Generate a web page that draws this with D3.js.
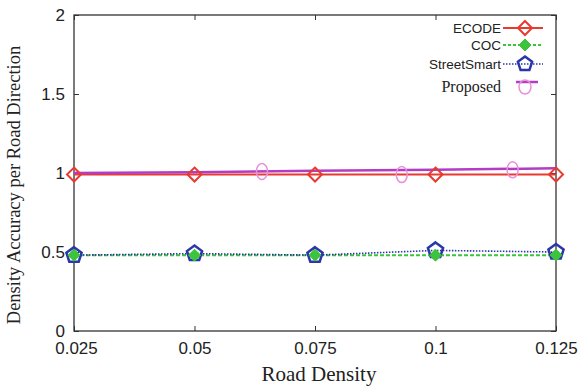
<!DOCTYPE html>
<html><head><meta charset="utf-8">
<script src="https://cdn.jsdelivr.net/npm/d3@7"></script>
<style>body{margin:0;background:#fff}svg{display:block}</style>
</head><body><svg id="c" width="585" height="386"></svg>
<script>
const xValues = [0.025, 0.05, 0.075, 0.1, 0.125];
const ecode = [0.99, 0.99, 0.99, 0.99, 0.99];
const coc = [0.48, 0.48, 0.48, 0.48, 0.48];
const streetSmart = [0.48, 0.49, 0.48, 0.51, 0.50];
const proposedLine = [1.0, 1.005, 1.015, 1.02, 1.03];
const proposedMarkX = [0.064, 0.093, 0.116];
const proposedMarkY = [1.01, 0.99, 1.02];
const xTicks = [0.025, 0.05, 0.075, 0.1, 0.125];
const yTicks = [0, 0.5, 1, 1.5, 2];

const svg = d3.select("#c");
const L = 74, R = 556, T = 15, B = 331;
const x = d3.scaleLinear().domain([0.025, 0.125]).range([L, R]);
const y = d3.scaleLinear().domain([0, 2]).range([B, T]);

svg.append("rect").attr("x", L).attr("y", T).attr("width", R - L).attr("height", B - T)
  .attr("fill", "none").attr("stroke", "#333").attr("stroke-width", 1.3);

const fmt = d => String(d);
const xb = svg.append("g").attr("transform", `translate(0,${B})`)
  .call(d3.axisBottom(x).tickValues(xTicks).tickFormat(fmt).tickSizeInner(-5).tickSizeOuter(0).tickPadding(10));
const xt = svg.append("g").attr("transform", `translate(0,${T})`)
  .call(d3.axisTop(x).tickValues(xTicks).tickFormat("").tickSizeInner(-5).tickSizeOuter(0));
const yl = svg.append("g").attr("transform", `translate(${L},0)`)
  .call(d3.axisLeft(y).tickValues(yTicks).tickFormat(fmt).tickSizeInner(-5).tickSizeOuter(0).tickPadding(9));
const yr = svg.append("g").attr("transform", `translate(${R},0)`)
  .call(d3.axisRight(y).tickValues(yTicks).tickFormat("").tickSizeInner(-5).tickSizeOuter(0));
[xb, xt, yl, yr].forEach(g => {
  g.select(".domain").remove();
  g.selectAll("line").attr("stroke", "#333").attr("stroke-width", 1);
  g.selectAll("text").attr("font-family", "Liberation Sans, Arial, sans-serif").attr("font-size", 17).attr("fill", "#222");
});
xb.selectAll("text").attr("y", 11).attr("dy", "0.71em");
xb.selectAll("text").filter(d => d === 0.025).attr("dx", 2);

svg.append("text").attr("x", 319).attr("y", 381).attr("text-anchor", "middle")
  .attr("font-family", "Liberation Serif, Times New Roman, serif").attr("font-size", 21).attr("fill", "#222")
  .text("Road Density");
svg.append("text").attr("transform", `translate(20,185) rotate(-90)`).attr("text-anchor", "middle")
  .attr("font-family", "Liberation Serif, Times New Roman, serif").attr("font-size", 18.5).attr("fill", "#222")
  .text("Density Accuracy per Road Direction");

const red = "#e83a30", green = "#3cc43c", blue = "#2b36a8", purple = "#b23cc4", pink = "#e890dc";
const line = d3.line().x(d => x(d[0])).y(d => y(d[1]));
const zip = vals => xValues.map((v, i) => [v, vals[i]]);

const diamond = (s) => `M0,${-s}L${s},0L0,${s}L${-s},0Z`;
const pentagon = (r) => {
  const pts = d3.range(5).map(i => { const a = -Math.PI / 2 + i * 2 * Math.PI / 5; return [r * Math.cos(a), r * Math.sin(a)]; });
  return "M" + pts.map(p => p.join(",")).join("L") + "Z";
};

svg.append("path").datum(zip(coc)).attr("d", line).attr("fill", "none").attr("stroke", green).attr("stroke-width", 2).attr("stroke-dasharray", "4,2");
svg.append("path").datum(zip(streetSmart)).attr("d", line).attr("fill", "none").attr("stroke", blue).attr("stroke-width", 1.6).attr("stroke-dasharray", "1.5,1.5");
svg.append("path").datum(zip(ecode)).attr("d", line).attr("fill", "none").attr("stroke", red).attr("stroke-width", 2);
svg.append("path").datum(zip(proposedLine)).attr("d", line).attr("fill", "none").attr("stroke", purple).attr("stroke-width", 2.5);

svg.append("g").selectAll("path").data(zip(streetSmart)).join("path")
  .attr("transform", d => `translate(${x(d[0])},${y(d[1])})`).attr("d", pentagon(8))
  .attr("fill", "none").attr("stroke", blue).attr("stroke-width", 2.5);
svg.append("g").selectAll("path").data(zip(coc)).join("path")
  .attr("transform", d => `translate(${x(d[0])},${y(d[1])})`).attr("d", diamond(6))
  .attr("fill", green).attr("stroke", green).attr("stroke-width", 1);
svg.append("g").selectAll("path").data(zip(ecode)).join("path")
  .attr("transform", d => `translate(${x(d[0])},${y(d[1])})`).attr("d", diamond(7))
  .attr("fill", "none").attr("stroke", red).attr("stroke-width", 2);
svg.append("g").selectAll("ellipse").data(proposedMarkX.map((v, i) => [v, proposedMarkY[i]])).join("ellipse")
  .attr("cx", d => x(d[0])).attr("cy", d => y(d[1])).attr("rx", 5.5).attr("ry", 8)
  .attr("fill", "none").attr("stroke", pink).attr("stroke-width", 1.5);

const leg = [
  {name: "ECODE", font: "Liberation Sans, Arial, sans-serif", size: 13.5, y: 28},
  {name: "COC", font: "Liberation Sans, Arial, sans-serif", size: 13.5, y: 45},
  {name: "StreetSmart", font: "Liberation Sans, Arial, sans-serif", size: 13.5, y: 64},
  {name: "Proposed", font: "Liberation Serif, Times New Roman, serif", size: 16, y: 86}
];
const lx0 = 503, lx1 = 543, mx = 525;
leg.forEach(l => {
  svg.append("text").attr("x", 501).attr("y", l.y).attr("dy", "0.35em").attr("text-anchor", "end")
    .attr("font-family", l.font).attr("font-size", l.size).attr("fill", "#222").text(l.name);
});
svg.append("line").attr("x1", lx0).attr("x2", lx1).attr("y1", 28).attr("y2", 28).attr("stroke", red).attr("stroke-width", 2);
svg.append("path").attr("transform", `translate(${mx},28)`).attr("d", diamond(7)).attr("fill", "none").attr("stroke", red).attr("stroke-width", 2);
svg.append("line").attr("x1", lx0).attr("x2", lx1).attr("y1", 45).attr("y2", 45).attr("stroke", green).attr("stroke-width", 2).attr("stroke-dasharray", "3,2");
svg.append("path").attr("transform", `translate(${mx},45)`).attr("d", diamond(6)).attr("fill", green).attr("stroke", green);
svg.append("line").attr("x1", lx0).attr("x2", lx1).attr("y1", 64).attr("y2", 64).attr("stroke", blue).attr("stroke-width", 1.6).attr("stroke-dasharray", "1.5,1.5");
svg.append("path").attr("transform", `translate(${mx},64)`).attr("d", pentagon(7.5)).attr("fill", "none").attr("stroke", blue).attr("stroke-width", 2.5);
svg.append("line").attr("x1", 516).attr("x2", 538).attr("y1", 82).attr("y2", 82).attr("stroke", purple).attr("stroke-width", 2.5);
svg.append("ellipse").attr("cx", mx).attr("cy", 87).attr("rx", 6).attr("ry", 7).attr("fill", "none").attr("stroke", pink).attr("stroke-width", 1.5);
</script></body></html>
